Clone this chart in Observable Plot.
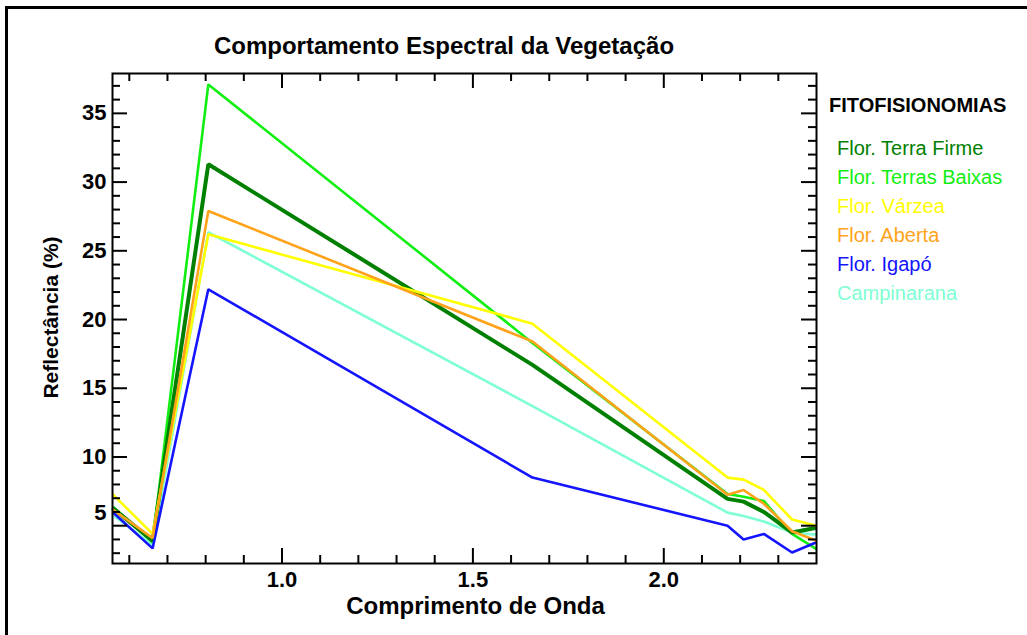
<!DOCTYPE html>
<html>
<head>
<meta charset="utf-8">
<script src="https://cdn.jsdelivr.net/npm/d3@7"></script>
<script src="https://cdn.jsdelivr.net/npm/@observablehq/plot@0.6"></script>
<style>
  html, body { margin: 0; padding: 0; background: #fff; }
  #wrap { position: relative; width: 1027px; height: 635px; overflow: hidden; font-family: "Liberation Sans", Arial, sans-serif; }
  #border { position: absolute; left: 5px; top: 6px; right: -10px; bottom: -10px; border-left: 3px solid #000; border-top: 3px solid #000; }
  #title { position: absolute; left: 0; width: 888px; top: 34px; text-align: center; font-size: 24px; line-height: 24px; font-weight: bold; color: #000; }
  #legend-title { position: absolute; left: 829px; top: 95px; font-size: 20px; line-height: 20px; font-weight: bold; color: #000; }
  #legend { position: absolute; left: 837px; top: 134px; font-size: 20px; line-height: 29px; }
  #chart { position: absolute; left: 0; top: 0; }
</style>
</head>
<body>
<div id="wrap">
  <div id="border"></div>
  <div id="chart"></div>
  <div id="title"></div>
  <div id="legend-title"></div>
  <div id="legend"></div>
</div>
<script>
// ---- data ----
const wavelengths = [0.556, 0.661, 0.807, 1.656, 2.167, 2.209, 2.262, 2.336, 2.400];
const florTerraFirme   = [6.3, 3.9, 31.3, 16.7, 6.95, 6.75, 6.0, 4.5, 4.85];
const florTerrasBaixas = [6.4, 3.8, 37.1, 18.3, 7.3, 7.1, 6.8, 4.4, 3.3];
const florVarzea       = [7.3, 4.4, 26.2, 19.7, 8.5, 8.35, 7.6, 5.45, 5.0];
const florAberta       = [6.2, 4.1, 27.9, 18.4, 7.25, 7.6, 6.6, 4.6, 3.9];
const florIgapo        = [6.0, 3.35, 22.2, 8.5, 5.0, 4.0, 4.4, 3.05, 3.8];
const campinarana      = [5.8, 3.6, 26.35, 13.7, 5.95, 5.7, 5.3, 4.5, 4.35];

const seriesNames = ["Flor. Terra Firme", "Flor. Terras Baixas", "Flor. Várzea", "Flor. Aberta", "Flor. Igapó", "Campinarana"];
const seriesValues = [florTerraFirme, florTerrasBaixas, florVarzea, florAberta, florIgapo, campinarana];

const titleText = "Comportamento Espectral da Vegetação";
const xLabel = "Comprimento de Onda";
const yLabel = "Reflectância (%)";
const legendTitle = "FITOFISIONOMIAS";

const xMajorTicks = [1.0, 1.5, 2.0];
const xMinorTicks = [0.6,0.7,0.8,0.9,1.1,1.2,1.3,1.4,1.6,1.7,1.8,1.9,2.1,2.2,2.3];
const yMajorTicks = [10, 15, 20, 25, 30, 35];
const yLowTick = [5];
const yMinorTicks = [3,4,6,7,8,9,11,12,13,14,16,17,18,19,21,22,23,24,26,27,28,29,31,32,33,34,36,37];

// ---- styles ----
const colors = ["#008000", "#11ee11", "#ffff00", "#ffa31a", "#1414ff", "#7fffd4"];
const widths = [4, 2.6, 2.6, 2.6, 2.6, 2.6];
const drawOrder = [5, 1, 0, 4, 2, 3];

const table = [];
seriesNames.forEach((name, i) => {
  seriesValues[i].forEach((v, j) => table.push({serie: name, w: wavelengths[j], r: v}));
});

const W = 1027, H = 635;
const mL = 112, mR = 211, mT = 73, mB = 72;
const frameW = W - mL - mR, frameH = H - mT - mB;
const maj = 15, mnr = 8;
const tickStyle = {stroke: "#000", strokeWidth: 2};
const allYMajor = yMajorTicks.concat(yLowTick);

const marks = [];
drawOrder.forEach(i => {
  marks.push(Plot.line(table.filter(d => d.serie === seriesNames[i]), {
    x: "w", y: "r", stroke: colors[i], strokeWidth: widths[i], strokeLinejoin: "miter", strokeLinecap: "butt"
  }));
});
// inward ticks on all four sides
marks.push(
  Plot.ruleX(xMajorTicks, {x: d => d, insetTop: frameH - maj, ...tickStyle}),
  Plot.ruleX(xMajorTicks, {x: d => d, insetBottom: frameH - maj, ...tickStyle}),
  Plot.ruleX(xMinorTicks, {x: d => d, insetTop: frameH - mnr, ...tickStyle}),
  Plot.ruleX(xMinorTicks, {x: d => d, insetBottom: frameH - mnr, ...tickStyle}),
  Plot.ruleY(allYMajor, {y: d => d, insetRight: frameW - maj, ...tickStyle}),
  Plot.ruleY(allYMajor, {y: d => d, insetLeft: frameW - maj, ...tickStyle}),
  Plot.ruleY(yMinorTicks, {y: d => d, insetRight: frameW - mnr, ...tickStyle}),
  Plot.ruleY(yMinorTicks, {y: d => d, insetLeft: frameW - mnr, ...tickStyle}),
  Plot.frame({stroke: "#000", strokeWidth: 2}),
  Plot.axisX(xMajorTicks, {tickSize: 0, tickPadding: 8, tickFormat: d3.format(".1f"), fontSize: 22, fontWeight: "bold", fill: "#000", label: null}),
  Plot.axisY(yMajorTicks, {tickSize: 0, tickPadding: 6, fontSize: 22, fontWeight: "bold", fill: "#000", label: null}),
  Plot.axisY(yLowTick, {tickSize: 0, tickPadding: 6, dy: -13, fontSize: 22, fontWeight: "bold", fill: "#000", label: null}),
  Plot.text([xLabel], {frameAnchor: "bottom", textAnchor: "middle", lineAnchor: "middle", dx: 11, dy: 43, fontSize: 24, fontWeight: "bold", fill: "#000"}),
  Plot.text([yLabel], {frameAnchor: "left", textAnchor: "middle", lineAnchor: "middle", dx: -61, dy: -1, rotate: -90, fontSize: 21, fontWeight: "bold", fill: "#000"})
);

const chart = Plot.plot({
  width: W, height: H,
  marginLeft: mL, marginRight: mR, marginTop: mT, marginBottom: mB,
  x: {domain: [0.556, 2.400], axis: null},
  y: {domain: [2.25, 37.9], axis: null},
  style: {fontFamily: '"Liberation Sans", Arial, sans-serif', background: "transparent", overflow: "visible"},
  marks
});
document.getElementById("chart").appendChild(chart);

document.getElementById("title").textContent = titleText;
document.getElementById("legend-title").textContent = legendTitle;
const leg = document.getElementById("legend");
seriesNames.forEach((name, i) => {
  const d = document.createElement("div");
  d.textContent = name;
  d.style.color = colors[i];
  leg.appendChild(d);
});
</script>
</body>
</html>
